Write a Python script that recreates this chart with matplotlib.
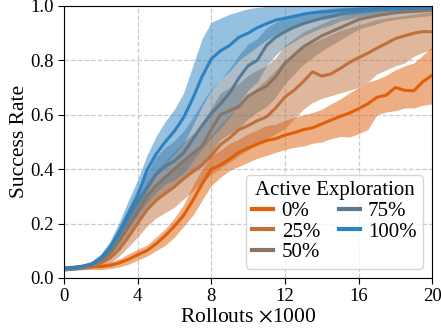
import numpy as np
import matplotlib
matplotlib.use("Agg")
import matplotlib.pyplot as plt

plt.rcParams["font.family"] = ["Liberation Serif", "DejaVu Serif"]
plt.rcParams["mathtext.fontset"] = "stix"

# ---------------------------------------------------------------------------
# Data (success rate vs rollouts)
# ---------------------------------------------------------------------------

rollouts = [0.0, 0.5, 1.0, 1.5, 2.0, 2.5, 3.0, 3.5, 4.0, 4.5,
            5.0, 5.5, 6.0, 6.5, 7.0, 7.5, 8.0, 8.5, 9.0, 9.5,
            10.0, 10.5, 11.0, 11.5, 12.0, 12.5, 13.0, 13.5, 14.0, 14.5,
            15.0, 15.5, 16.0, 16.5, 17.0, 17.5, 18.0, 18.5, 19.0, 19.5, 20.0]

labels = ["0%", "25%", "50%", "75%", "100%"]
colors = ["#df5f0a", "#c0703c", "#8a7565", "#5a7a93", "#2c82c0"]

mean_0 = [0.035, 0.037, 0.040, 0.042, 0.041, 0.046, 0.055, 0.068, 0.085, 0.100,
          0.125, 0.155, 0.190, 0.230, 0.285, 0.345, 0.400, 0.415, 0.437, 0.462,
          0.478, 0.492, 0.505, 0.512, 0.525, 0.534, 0.545, 0.552, 0.566, 0.580,
          0.594, 0.606, 0.622, 0.640, 0.664, 0.672, 0.700, 0.690, 0.688, 0.722, 0.745]
lo_0 = [0.025, 0.028, 0.030, 0.031, 0.030, 0.034, 0.040, 0.050, 0.065, 0.080,
        0.100, 0.120, 0.150, 0.190, 0.230, 0.285, 0.340, 0.370, 0.395, 0.410,
        0.425, 0.440, 0.450, 0.462, 0.472, 0.480, 0.485, 0.495, 0.500, 0.512,
        0.520, 0.518, 0.530, 0.545, 0.600, 0.610, 0.615, 0.625, 0.625, 0.635, 0.640]
hi_0 = [0.045, 0.047, 0.050, 0.053, 0.052, 0.058, 0.070, 0.088, 0.105, 0.120,
        0.150, 0.180, 0.220, 0.270, 0.340, 0.400, 0.450, 0.470, 0.495, 0.510,
        0.530, 0.545, 0.560, 0.565, 0.580, 0.590, 0.600, 0.608, 0.620, 0.640,
        0.658, 0.680, 0.700, 0.720, 0.730, 0.745, 0.765, 0.780, 0.790, 0.820, 0.850]

mean_25 = [0.035, 0.037, 0.040, 0.045, 0.055, 0.072, 0.105, 0.150, 0.200, 0.250,
           0.285, 0.310, 0.335, 0.365, 0.392, 0.415, 0.450, 0.490, 0.515, 0.545,
           0.560, 0.578, 0.592, 0.625, 0.665, 0.690, 0.722, 0.758, 0.742, 0.750,
           0.770, 0.792, 0.810, 0.826, 0.845, 0.862, 0.880, 0.890, 0.900, 0.906, 0.905]
lo_25 = [0.025, 0.028, 0.031, 0.035, 0.042, 0.055, 0.080, 0.115, 0.150, 0.190,
         0.220, 0.240, 0.260, 0.290, 0.320, 0.350, 0.380, 0.405, 0.425, 0.450,
         0.470, 0.490, 0.510, 0.530, 0.550, 0.585, 0.620, 0.645, 0.660, 0.670,
         0.680, 0.690, 0.700, 0.720, 0.750, 0.765, 0.780, 0.790, 0.815, 0.830, 0.840]
hi_25 = [0.045, 0.047, 0.050, 0.056, 0.068, 0.090, 0.130, 0.185, 0.245, 0.305,
         0.345, 0.375, 0.405, 0.435, 0.460, 0.490, 0.525, 0.565, 0.600, 0.635,
         0.665, 0.700, 0.730, 0.765, 0.800, 0.820, 0.850, 0.865, 0.880, 0.895,
         0.910, 0.920, 0.930, 0.940, 0.950, 0.955, 0.960, 0.965, 0.970, 0.975, 0.980]

mean_50 = [0.035, 0.037, 0.041, 0.047, 0.062, 0.090, 0.135, 0.190, 0.245, 0.300,
           0.340, 0.370, 0.400, 0.430, 0.458, 0.485, 0.545, 0.600, 0.615, 0.630,
           0.668, 0.688, 0.705, 0.740, 0.790, 0.820, 0.850, 0.870, 0.890, 0.905,
           0.920, 0.935, 0.950, 0.958, 0.965, 0.970, 0.975, 0.978, 0.980, 0.982, 0.985]
lo_50 = [0.027, 0.029, 0.032, 0.037, 0.050, 0.072, 0.110, 0.155, 0.200, 0.245,
         0.280, 0.310, 0.335, 0.360, 0.385, 0.410, 0.460, 0.510, 0.530, 0.550,
         0.585, 0.610, 0.630, 0.665, 0.715, 0.750, 0.785, 0.810, 0.835, 0.855,
         0.875, 0.895, 0.915, 0.925, 0.935, 0.945, 0.950, 0.955, 0.958, 0.962, 0.965]
hi_50 = [0.043, 0.045, 0.050, 0.058, 0.076, 0.110, 0.165, 0.225, 0.290, 0.350,
         0.395, 0.430, 0.465, 0.500, 0.530, 0.560, 0.625, 0.680, 0.700, 0.715,
         0.745, 0.765, 0.780, 0.810, 0.855, 0.880, 0.905, 0.920, 0.935, 0.950,
         0.960, 0.970, 0.978, 0.985, 0.990, 0.992, 0.995, 0.996, 0.997, 0.998, 0.998]

mean_75 = [0.035, 0.037, 0.042, 0.050, 0.070, 0.105, 0.160, 0.220, 0.280, 0.330,
           0.380, 0.410, 0.430, 0.460, 0.510, 0.560, 0.605, 0.640, 0.680, 0.735,
           0.780, 0.800, 0.855, 0.885, 0.905, 0.922, 0.935, 0.945, 0.955, 0.962,
           0.970, 0.975, 0.980, 0.983, 0.986, 0.988, 0.990, 0.990, 0.991, 0.991, 0.992]
lo_75 = [0.027, 0.029, 0.033, 0.040, 0.056, 0.085, 0.130, 0.180, 0.230, 0.275,
         0.315, 0.345, 0.360, 0.385, 0.430, 0.475, 0.515, 0.550, 0.590, 0.640,
         0.690, 0.720, 0.780, 0.820, 0.850, 0.870, 0.890, 0.905, 0.920, 0.930,
         0.945, 0.952, 0.960, 0.965, 0.970, 0.975, 0.978, 0.980, 0.982, 0.983, 0.985]
hi_75 = [0.043, 0.045, 0.051, 0.060, 0.085, 0.125, 0.190, 0.260, 0.330, 0.385,
         0.445, 0.480, 0.505, 0.540, 0.590, 0.645, 0.695, 0.730, 0.770, 0.820,
         0.860, 0.880, 0.920, 0.940, 0.955, 0.965, 0.975, 0.982, 0.988, 0.992,
         0.995, 0.996, 0.997, 0.998, 0.998, 0.999, 0.999, 1.000, 1.000, 1.000, 1.000]

mean_100 = [0.035, 0.037, 0.042, 0.050, 0.072, 0.112, 0.170, 0.235, 0.300, 0.395,
            0.455, 0.500, 0.540, 0.590, 0.660, 0.740, 0.805, 0.835, 0.855, 0.885,
            0.900, 0.920, 0.935, 0.948, 0.955, 0.962, 0.970, 0.975, 0.978, 0.980,
            0.984, 0.986, 0.988, 0.989, 0.990, 0.990, 0.991, 0.991, 0.992, 0.992, 0.992]
lo_100 = [0.027, 0.029, 0.034, 0.040, 0.058, 0.090, 0.135, 0.185, 0.240, 0.320,
          0.375, 0.420, 0.455, 0.495, 0.560, 0.630, 0.690, 0.730, 0.760, 0.800,
          0.825, 0.850, 0.875, 0.895, 0.910, 0.920, 0.935, 0.945, 0.950, 0.955,
          0.962, 0.968, 0.972, 0.975, 0.978, 0.980, 0.982, 0.983, 0.984, 0.985, 0.985]
hi_100 = [0.043, 0.045, 0.050, 0.062, 0.088, 0.135, 0.205, 0.285, 0.360, 0.450,
          0.520, 0.575, 0.620, 0.680, 0.780, 0.880, 0.940, 0.955, 0.970, 0.980,
          0.990, 0.995, 0.998, 1.000, 1.000, 1.000, 1.000, 1.000, 1.000, 1.000,
          1.000, 1.000, 1.000, 1.000, 1.000, 1.000, 1.000, 1.000, 1.000, 1.000, 1.000]

means = [mean_0, mean_25, mean_50, mean_75, mean_100]
lows = [lo_0, lo_25, lo_50, lo_75, lo_100]
highs = [hi_0, hi_25, hi_50, hi_75, hi_100]

# ---------------------------------------------------------------------------
# Plot
# ---------------------------------------------------------------------------

fig = plt.figure(figsize=(4.41, 3.32), dpi=100)
ax = fig.add_axes([0.145, 0.163, 0.835, 0.819])

for lab, col, m, lo, hi in zip(labels, colors, means, lows, highs):
    ax.fill_between(rollouts, lo, hi, color=col, alpha=0.5, linewidth=0)
    ax.plot(rollouts, m, color=col, lw=2.2, label=lab)

ax.set_xlim(0, 20)
ax.set_ylim(0, 1.0)
ax.set_xticks([0, 4, 8, 12, 16, 20])
ax.set_yticks([0.0, 0.2, 0.4, 0.6, 0.8, 1.0])
ax.tick_params(labelsize=13.5, length=4)
ax.grid(True, ls="--", color="#cccccc", lw=0.9)
ax.set_axisbelow(True)
ax.set_xlabel(r"Rollouts $\times$1000", fontsize=15.5, labelpad=2)
ax.set_ylabel("Success Rate", fontsize=15.5, labelpad=1)

leg = ax.legend(title="Active Exploration", ncol=2, loc="lower right",
                fontsize=15, title_fontsize=15, handlelength=1.0,
                handletextpad=0.4, columnspacing=0.9, labelspacing=0.05,
                borderpad=0.3, borderaxespad=0.45, framealpha=0.8)
for line in leg.get_lines():
    line.set_linewidth(3)

fig.savefig("out.png", dpi=100)
